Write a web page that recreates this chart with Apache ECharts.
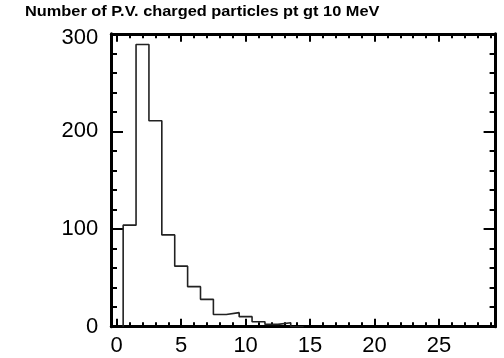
<!DOCTYPE html>
<html>
<head>
<meta charset="utf-8">
<script src="https://cdn.jsdelivr.net/npm/echarts@6/dist/echarts.min.js"></script>
<style>html,body{margin:0;padding:0;background:#fff}#c{width:504px;height:358px}</style>
</head>
<body>
<div id="c"></div>
<script>
// ---- data ----
const titleText = 'Number of P.V. charged particles pt gt 10 MeV';
const binCenters = [1, 2, 3, 4, 5, 6, 7, 8, 9, 10, 11, 12, 13, 14];
const counts = [104, 289, 211, 94, 62, 41, 28, 12.5, 14.4, 10.3, 5.1, 2.4, 4.0, 0];
const binWidth = 1;
const xMajorTicks = [0, 5, 10, 15, 20, 25];
const xMinorTicks = [1,2,3,4,6,7,8,9,11,12,13,14,16,17,18,19,21,22,23,24,26,27,28,29];
const yMajorTicks = [0, 100, 200, 300];
const yMinorTicks = [20,40,60,80,120,140,160,180,220,240,260,280];
const xRange = [-0.42, 29.37];
const yRange = [0, 300];

// step outline built from the bin arrays
const outline = [];
outline.push([binCenters[0] - binWidth / 2, 0]);
binCenters.forEach((c, i) => {
  outline.push([c - binWidth / 2, counts[i]]);
  outline.push([c + binWidth / 2, counts[i]]);
});
outline.push([binCenters[binCenters.length - 1] + binWidth / 2, 0]);

const font = 'Liberation Sans';
const black = '#000';
const gridRect = { left: 111.3, right: 8.7, top: 33.8, bottom: 31.3 };

const chart = echarts.init(document.getElementById('c'), null, { renderer: 'canvas' });

function xAxisMain(pos, labels) {
  return {
    type: 'value', gridIndex: 0, position: pos, min: xRange[0], max: xRange[1],
    axisLine: { show: true, onZero: false, lineStyle: { color: black, width: 3 } },
    axisTick: { show: true, inside: true, length: 8, customValues: xMajorTicks, lineStyle: { color: black, width: 2 } },
    axisLabel: labels ? { show: true, customValues: xMajorTicks, margin: 8, fontSize: 22, fontFamily: font, color: black } : { show: false },
    splitLine: { show: false }
  };
}
function xAxisMinor(pos) {
  return {
    type: 'value', gridIndex: 1, position: pos, min: xRange[0], max: xRange[1],
    axisLine: { show: false, onZero: false },
    axisTick: { show: true, inside: true, length: 4.5, customValues: xMinorTicks, lineStyle: { color: black, width: 2 } },
    axisLabel: { show: false },
    splitLine: { show: false }
  };
}
function yAxisMain(pos, labels) {
  return {
    type: 'value', gridIndex: 0, position: pos, min: yRange[0], max: yRange[1],
    axisLine: { show: true, onZero: false, lineStyle: { color: black, width: 3 } },
    axisTick: { show: true, inside: true, length: 11.7, customValues: yMajorTicks, lineStyle: { color: black, width: 2 } },
    axisLabel: labels ? {
      show: true, customValues: yMajorTicks, margin: 13, fontSize: 22, fontFamily: font, color: black,
      formatter: v => (v === yRange[1] ? '{t|' + v + '}' : String(v)),
      rich: { t: { fontSize: 22, fontFamily: font, color: black, padding: [8, 0, 0, 0] } }
    } : { show: false },
    splitLine: { show: false }
  };
}
function yAxisMinor(pos) {
  return {
    type: 'value', gridIndex: 1, position: pos, min: yRange[0], max: yRange[1],
    axisLine: { show: false, onZero: false },
    axisTick: { show: true, inside: true, length: 5.7, customValues: yMinorTicks, lineStyle: { color: black, width: 2 } },
    axisLabel: { show: false },
    splitLine: { show: false }
  };
}

chart.setOption({
  animation: false,
  backgroundColor: '#fff',
  grid: [
    Object.assign({}, gridRect),
    Object.assign({}, gridRect)
  ],
  graphic: [{
    type: 'text', x: 25, y: 12.5, scaleX: 1.168, scaleY: 1,
    style: { text: titleText, font: 'bold 14px "Liberation Sans"', fill: black, textVerticalAlign: 'middle', textAlign: 'left' }
  }],
  xAxis: [
    xAxisMain('bottom', true),
    xAxisMain('top', false),
    xAxisMinor('bottom'),
    xAxisMinor('top')
  ],
  yAxis: [
    yAxisMain('left', true),
    yAxisMain('right', false),
    yAxisMinor('left'),
    yAxisMinor('right')
  ],
  series: [{
    type: 'line', xAxisIndex: 0, yAxisIndex: 0,
    data: outline, symbol: 'none', clip: true,
    lineStyle: { color: '#222', width: 1.6 }
  }]
});
</script>
</body>
</html>
